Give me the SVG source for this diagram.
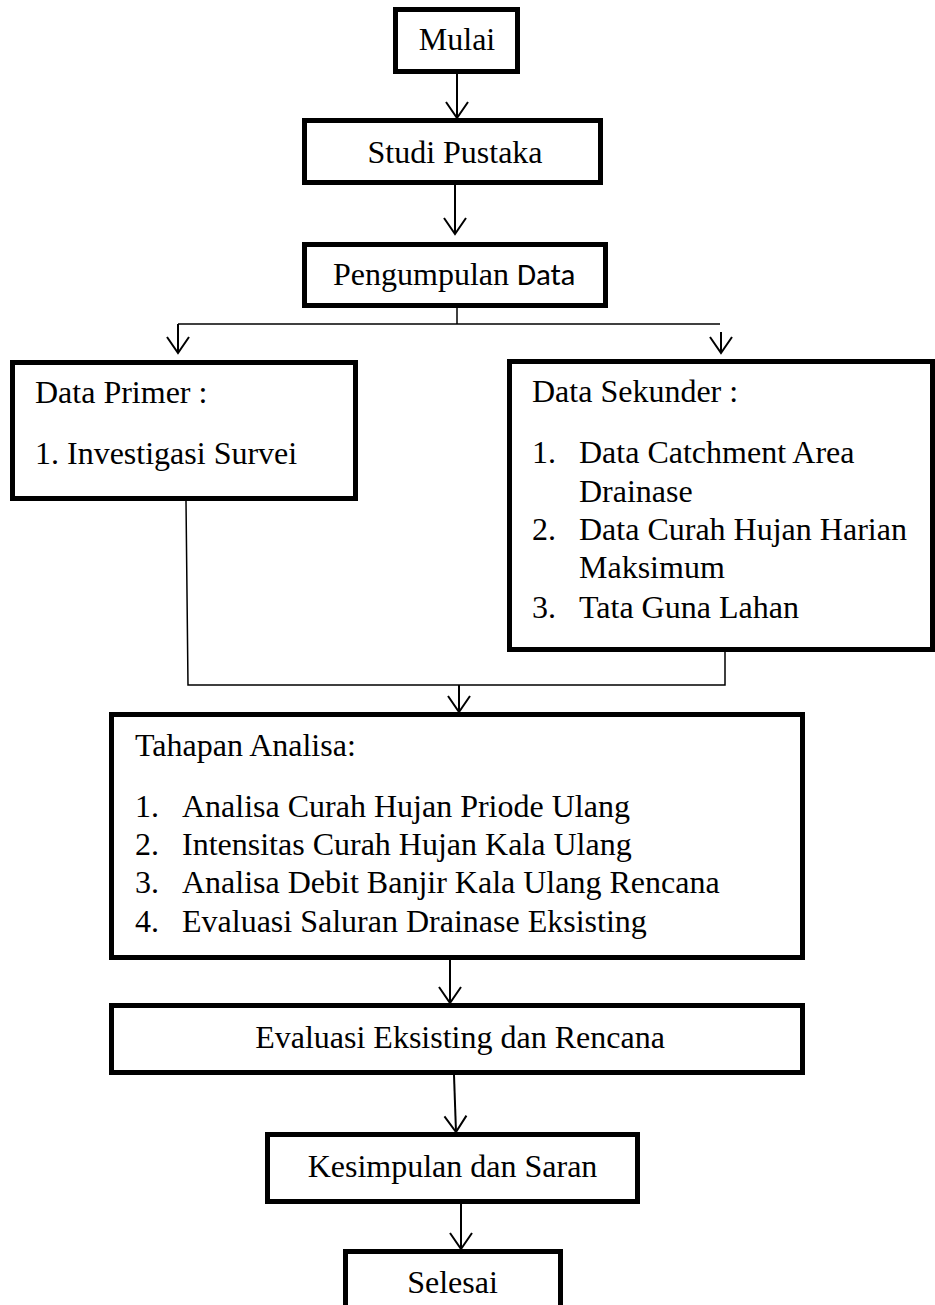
<svg xmlns="http://www.w3.org/2000/svg" width="935" height="1305" viewBox="0 0 935 1305">
<style>
.box{fill:#fff;stroke:#000;stroke-width:5}
.ln{fill:none;stroke:#000;stroke-width:2}
.thin{fill:none;stroke:#000;stroke-width:1.5}
.t{font-family:"Liberation Serif","Times New Roman",serif;font-size:32px;fill:#000}
.c{text-anchor:middle}
.sans{font-family:Carlito,Lato,"Liberation Sans",sans-serif;font-size:31px}
</style>
<defs>
<marker id="ah" markerUnits="userSpaceOnUse" viewBox="-18 -13 20 26" refX="0" refY="0" markerWidth="20" markerHeight="26" orient="auto">
<path d="M-16,-11 L0,0 L-16,11" fill="none" stroke="#000" stroke-width="2"/>
</marker>
</defs>
<g id="connectors">
<line class="ln" x1="457" y1="74" x2="457" y2="118" marker-end="url(#ah)"/>
<line class="ln" x1="455" y1="185" x2="455" y2="234" marker-end="url(#ah)"/>
<polyline class="thin" points="457,308 457,324"/>
<polyline class="thin" points="178,324 720,324"/>
<line class="ln" x1="178" y1="324" x2="178" y2="353" marker-end="url(#ah)"/>
<line class="ln" x1="721" y1="332" x2="721" y2="353" marker-end="url(#ah)"/>
<polyline class="thin" points="186,501 188,685 725,685 725,652"/>
<line class="ln" x1="459" y1="685" x2="459" y2="712" marker-end="url(#ah)"/>
<line class="ln" x1="450" y1="960" x2="450" y2="1003" marker-end="url(#ah)"/>
<line class="ln" x1="454" y1="1075" x2="456" y2="1132" marker-end="url(#ah)"/>
<line class="ln" x1="461" y1="1204" x2="461" y2="1249" marker-end="url(#ah)"/>
</g>
<g id="mulai">
<rect class="box" x="395.5" y="9.5" width="122" height="62"/>
<text class="t c" x="457" y="50">Mulai</text>
</g>
<g id="studi-pustaka">
<rect class="box" x="304.5" y="120.5" width="296" height="62"/>
<text class="t c" x="455" y="163">Studi Pustaka</text>
</g>
<g id="pengumpulan-data">
<rect class="box" x="304.5" y="244.5" width="301" height="61"/>
<text class="t" x="333" y="285">Pengumpulan <tspan class="sans">Data</tspan></text>
</g>
<g id="data-primer">
<rect class="box" x="12.5" y="362.5" width="343" height="136"/>
<text class="t" x="35" y="403">Data Primer :</text>
<text class="t" x="35" y="464">1. Investigasi Survei</text>
</g>
<g id="data-sekunder">
<rect class="box" x="509.5" y="361.5" width="423" height="288"/>
<text class="t" x="532" y="402">Data Sekunder :</text>
<text class="t" x="532" y="463">1.</text>
<text class="t" x="579" y="463">Data Catchment Area</text>
<text class="t" x="579" y="502">Drainase</text>
<text class="t" x="532" y="540">2.</text>
<text class="t" x="579" y="540">Data Curah Hujan Harian</text>
<text class="t" x="579" y="578">Maksimum</text>
<text class="t" x="532" y="618">3.</text>
<text class="t" x="579" y="618">Tata Guna Lahan</text>
</g>
<g id="tahapan-analisa">
<rect class="box" x="111.5" y="714.5" width="691" height="243"/>
<text class="t" x="135" y="756">Tahapan Analisa:</text>
<text class="t" x="135" y="817">1.</text>
<text class="t" x="182" y="817">Analisa Curah Hujan Priode Ulang</text>
<text class="t" x="135" y="855">2.</text>
<text class="t" x="182" y="855">Intensitas Curah Hujan Kala Ulang</text>
<text class="t" x="135" y="893">3.</text>
<text class="t" x="182" y="893">Analisa Debit Banjir Kala Ulang Rencana</text>
<text class="t" x="135" y="932">4.</text>
<text class="t" x="182" y="932">Evaluasi Saluran Drainase Eksisting</text>
</g>
<g id="evaluasi">
<rect class="box" x="111.5" y="1005.5" width="691" height="67"/>
<text class="t c" x="460" y="1048">Evaluasi Eksisting dan Rencana</text>
</g>
<g id="kesimpulan">
<rect class="box" x="267.5" y="1134.5" width="370" height="67"/>
<text class="t c" x="452.5" y="1177">Kesimpulan dan Saran</text>
</g>
<g id="selesai">
<rect class="box" x="345.5" y="1251.5" width="215" height="70"/>
<text class="t c" x="452.5" y="1293">Selesai</text>
</g>
</svg>
